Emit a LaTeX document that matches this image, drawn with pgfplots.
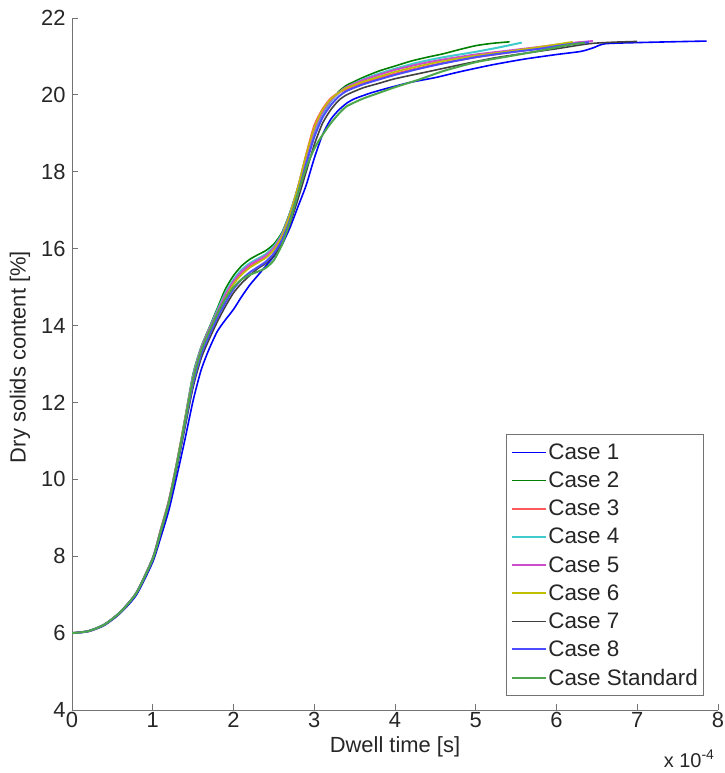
\documentclass[border=0pt]{standalone}
\usepackage{fontspec}
\setmainfont{Liberation Sans}
\usepackage{pgfplots}
\pgfplotsset{compat=1.18}
\definecolor{axgray}{rgb}{0.45,0.45,0.45}
\definecolor{txt}{rgb}{0.15,0.15,0.15}
\definecolor{cA}{rgb}{0,0,1}
\definecolor{cB}{rgb}{0,0.5,0}
\definecolor{cC}{rgb}{1,0.35,0.35}
\definecolor{cD}{rgb}{0.25,0.8,0.8}
\definecolor{cE}{rgb}{0.8,0.3,0.8}
\definecolor{cF}{rgb}{0.75,0.75,0}
\definecolor{cG}{rgb}{0.25,0.25,0.25}
\definecolor{cH}{rgb}{0.3,0.3,1}
\definecolor{cI}{rgb}{0.3,0.65,0.3}
\begin{document}
\begin{tikzpicture}
\path[use as bounding box] (-72bp,-63bp) rectangle (653bp,710bp);
\begin{axis}[
  at={(0,0)}, anchor=south west,
  width=646bp, height=692bp, scale only axis,
  xmin=0, xmax=8, ymin=4, ymax=22,
  xtick={0,1,...,8}, ytick={4,6,...,22},
  axis x line*=bottom, axis y line*=left,
  axis line style={-, draw=axgray, line width=0.8bp},
  x axis line style={-}, y axis line style={-},
  tick align=inside, major tick length=6bp,
  tick style={draw=axgray, line width=0.8bp},
  font=\fontsize{22}{26}\selectfont,
  /pgf/number format/assume math mode=true,
  ticklabel style={text=txt},
  xticklabel style={inner sep=2bp},
  yticklabel style={xshift=-3bp},
  xlabel={Dwell time [s]},
  ylabel={Dry solids content [\%]},
  every axis x label/.style={at={(axis description cs:0.5,0)}, yshift=-37bp, anchor=center, text=txt},
  every axis y label/.style={at={(axis description cs:0,0.51)}, xshift=-52bp, anchor=center, rotate=90, text=txt},
  legend style={at={(axis description cs:0.978,0.02)}, anchor=south east, draw=axgray, line width=0.8bp,
    font=\fontsize{22.5}{26}\selectfont, text=txt, inner xsep=4bp, inner ysep=8bp, row sep=9bp,
    nodes={inner xsep=1.5bp, inner ysep=1bp}},
  legend cell align=left,
  legend image code/.code={\draw[#1] (0bp,0bp) -- (34bp,0bp);},
  every axis plot/.append style={smooth, tension=0.4},
]
% Case 1
\addplot[cA, line width=1.6bp] coordinates {(0,6.00)(0.2,6.04)(0.4,6.2)(0.6,6.52)(0.8,7.0)(1.0,7.85)(1.1,8.5)(1.2,9.2)(1.3,10.1)(1.4,11.05)(1.5,12.05)(1.6,12.85)(1.7,13.4)(1.8,13.85)(1.9,14.15)(2.0,14.42)(2.1,14.75)(2.2,15.05)(2.3,15.3)(2.4,15.55)(2.5,15.8)(2.6,16.1)(2.7,16.55)(2.8,17.1)(2.9,17.65)(3.0,18.35)(3.1,18.95)(3.2,19.35)(3.3,19.6)(3.4,19.78)(3.5,19.9)(3.7,20.05)(3.9,20.17)(4.2,20.33)(4.5,20.45)(4.8,20.6)(5.2,20.78)(5.6,20.93)(6.0,21.05)(6.3,21.13)(6.45,21.22)(6.6,21.33)(7.0,21.36)(7.4,21.38)(7.86,21.4)};
\addlegendentry{Case 1}
% Case 2
\addplot[cB, line width=1.6bp] coordinates {(0,6.00)(0.2,6.05)(0.4,6.22)(0.6,6.55)(0.8,7.06)(1.0,7.95)(1.1,8.7)(1.2,9.45)(1.3,10.45)(1.4,11.6)(1.5,12.75)(1.6,13.45)(1.7,13.95)(1.8,14.45)(1.9,14.95)(2.0,15.3)(2.1,15.55)(2.2,15.72)(2.3,15.84)(2.4,15.95)(2.5,16.12)(2.6,16.42)(2.7,16.95)(2.8,17.6)(2.9,18.35)(3.0,19.05)(3.1,19.5)(3.2,19.82)(3.3,20.08)(3.4,20.25)(3.5,20.35)(3.6,20.45)(3.8,20.62)(4.0,20.75)(4.2,20.88)(4.4,20.98)(4.6,21.07)(4.8,21.18)(5.0,21.28)(5.2,21.34)(5.42,21.38)};
\addlegendentry{Case 2}
% Case 3
\addplot[cC, line width=2bp] coordinates {(0,6.00)(0.2,6.05)(0.4,6.22)(0.6,6.55)(0.8,7.06)(1.0,7.95)(1.1,8.68)(1.2,9.43)(1.3,10.43)(1.4,11.52)(1.5,12.65)(1.6,13.38)(1.7,13.88)(1.8,14.32)(1.9,14.75)(2.0,15.1)(2.1,15.35)(2.2,15.53)(2.3,15.66)(2.4,15.78)(2.5,15.98)(2.6,16.3)(2.7,16.85)(2.8,17.6)(2.9,18.45)(3.0,19.2)(3.1,19.62)(3.2,19.9)(3.3,20.05)(3.4,20.15)(3.6,20.3)(3.8,20.43)(4.0,20.55)(4.3,20.7)(4.6,20.83)(5.0,20.98)(5.4,21.1)(5.8,21.22)(6.3,21.37)};
\addlegendentry{Case 3}
% Case 4
\addplot[cD, line width=2bp] coordinates {(0,6.00)(0.2,6.05)(0.4,6.22)(0.6,6.55)(0.8,7.06)(1.0,7.95)(1.1,8.68)(1.2,9.43)(1.3,10.43)(1.4,11.55)(1.5,12.7)(1.6,13.42)(1.7,13.92)(1.8,14.4)(1.9,14.85)(2.0,15.2)(2.1,15.45)(2.2,15.62)(2.3,15.74)(2.4,15.86)(2.5,16.06)(2.6,16.38)(2.7,16.92)(2.8,17.6)(2.9,18.38)(3.0,19.05)(3.1,19.5)(3.2,19.82)(3.3,20.05)(3.4,20.2)(3.6,20.4)(3.8,20.55)(4.0,20.68)(4.3,20.85)(4.6,20.98)(5.0,21.12)(5.3,21.24)(5.57,21.36)};
\addlegendentry{Case 4}
% Case 5
\addplot[cE, line width=2bp] coordinates {(0,6.00)(0.2,6.05)(0.4,6.22)(0.6,6.55)(0.8,7.06)(1.0,7.95)(1.1,8.7)(1.2,9.45)(1.3,10.45)(1.4,11.55)(1.5,12.65)(1.6,13.4)(1.7,13.9)(1.8,14.35)(1.9,14.8)(2.0,15.15)(2.1,15.4)(2.2,15.58)(2.3,15.7)(2.4,15.82)(2.5,16.02)(2.6,16.35)(2.7,16.9)(2.8,17.6)(2.9,18.4)(3.0,19.1)(3.1,19.55)(3.2,19.85)(3.3,20.05)(3.4,20.2)(3.6,20.38)(3.8,20.52)(4.0,20.65)(4.3,20.8)(4.6,20.92)(5.0,21.05)(5.4,21.15)(5.8,21.25)(6.1,21.33)(6.45,21.4)};
\addlegendentry{Case 5}
% Case 6
\addplot[cF, line width=1.6bp] coordinates {(0,6.00)(0.2,6.05)(0.4,6.22)(0.6,6.55)(0.8,7.06)(1.0,7.95)(1.1,8.7)(1.2,9.45)(1.3,10.45)(1.4,11.55)(1.5,12.6)(1.6,13.35)(1.7,13.85)(1.8,14.3)(1.9,14.72)(2.0,15.08)(2.1,15.32)(2.2,15.5)(2.3,15.63)(2.4,15.76)(2.5,15.97)(2.6,16.32)(2.7,16.9)(2.8,17.62)(2.9,18.45)(3.0,19.15)(3.1,19.6)(3.2,19.88)(3.3,20.05)(3.4,20.18)(3.6,20.34)(3.8,20.47)(4.0,20.6)(4.3,20.75)(4.6,20.88)(5.0,21.02)(5.4,21.13)(5.8,21.25)(6.2,21.38)};
\addlegendentry{Case 6}
% Case 7
\addplot[cG, line width=1.6bp] coordinates {(0,6.00)(0.2,6.05)(0.4,6.21)(0.6,6.54)(0.8,7.04)(1.0,7.9)(1.1,8.6)(1.2,9.35)(1.3,10.3)(1.4,11.35)(1.5,12.4)(1.6,13.15)(1.7,13.65)(1.8,14.1)(1.9,14.5)(2.0,14.85)(2.1,15.1)(2.2,15.3)(2.3,15.48)(2.4,15.62)(2.5,15.82)(2.6,16.15)(2.7,16.65)(2.8,17.3)(2.9,18.0)(3.0,18.7)(3.1,19.25)(3.2,19.6)(3.3,19.85)(3.4,20.0)(3.6,20.18)(3.8,20.3)(4.0,20.42)(4.4,20.6)(4.8,20.78)(5.2,20.95)(5.6,21.08)(6.0,21.2)(6.4,21.33)(6.7,21.37)(7.0,21.39)};
\addlegendentry{Case 7}
% Case 8
\addplot[cH, line width=2bp] coordinates {(0,6.00)(0.2,6.05)(0.4,6.22)(0.6,6.55)(0.8,7.05)(1.0,7.93)(1.1,8.65)(1.2,9.4)(1.3,10.38)(1.4,11.45)(1.5,12.5)(1.6,13.25)(1.7,13.75)(1.8,14.2)(1.9,14.6)(2.0,14.95)(2.1,15.2)(2.2,15.38)(2.3,15.52)(2.4,15.66)(2.5,15.88)(2.6,16.22)(2.7,16.75)(2.8,17.45)(2.9,18.2)(3.0,18.9)(3.1,19.4)(3.2,19.72)(3.3,19.95)(3.4,20.1)(3.6,20.27)(3.8,20.4)(4.0,20.52)(4.3,20.68)(4.6,20.82)(5.0,20.98)(5.4,21.1)(5.8,21.2)(6.1,21.3)(6.4,21.37)};
\addlegendentry{Case 8}
% Case Standard
\addplot[cI, line width=2bp] coordinates {(0,6.00)(0.2,6.05)(0.4,6.22)(0.6,6.55)(0.8,7.05)(1.0,7.93)(1.1,8.65)(1.2,9.4)(1.3,10.4)(1.4,11.5)(1.5,12.6)(1.6,13.35)(1.7,13.85)(1.8,14.3)(1.9,14.7)(2.0,15.0)(2.1,15.2)(2.2,15.32)(2.3,15.4)(2.4,15.5)(2.5,15.7)(2.6,16.1)(2.7,16.7)(2.8,17.45)(2.9,18.1)(3.0,18.6)(3.1,18.95)(3.2,19.25)(3.3,19.5)(3.4,19.7)(3.6,19.9)(3.8,20.05)(4.0,20.2)(4.3,20.4)(4.6,20.62)(5.0,20.85)(5.4,21.0)(5.8,21.15)(6.1,21.28)(6.35,21.36)};
\addlegendentry{Case Standard}
\end{axis}
\node[anchor=east, text=txt, font=\fontsize{20}{24}\selectfont] at (646bp,-49bp) {x 10\textsuperscript{-4}};
\end{tikzpicture}
\end{document}
